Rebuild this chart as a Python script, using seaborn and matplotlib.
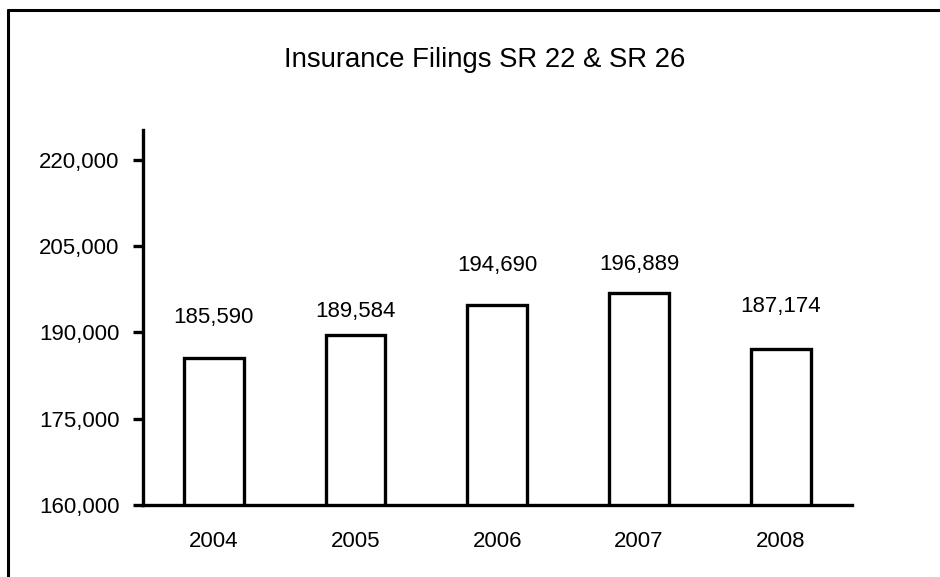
import matplotlib
matplotlib.use("Agg")
import matplotlib.pyplot as plt
import seaborn as sns
import pandas as pd
from matplotlib.lines import Line2D

years = ["2004", "2005", "2006", "2007", "2008"]
filings = [185590, 189584, 194690, 196889, 187174]
ytick_vals = [160000, 175000, 190000, 205000, 220000]

# label offsets above bar tops (px), as in the original layout
label_offsets = [40, 23, 40, 28, 42]

sns.set_style("ticks")
plt.rcParams["font.family"] = ["Liberation Sans", "DejaVu Sans"]

df = pd.DataFrame({"year": years, "filings": filings})

fig = plt.figure(figsize=(9.4, 5.77), dpi=100)
ax = fig.add_axes([0.152, 0.1248, 0.754, 0.65])

sns.barplot(data=df, x="year", y="filings", color="white", edgecolor="black",
            linewidth=2.4, width=0.42, saturation=1, ax=ax)

ax.set_ylim(160000, 225200)
ax.set_yticks(ytick_vals)
ax.set_yticklabels([f"{v:,}" for v in ytick_vals])
ax.set_xlim(-0.5, 4.5)
ax.set_xlabel("")
ax.set_ylabel("")

for side in ["top", "right"]:
    ax.spines[side].set_visible(False)
for side in ["left", "bottom"]:
    ax.spines[side].set_linewidth(2.4)
    ax.spines[side].set_color("black")

ax.tick_params(axis="y", length=7, width=2.4, pad=10, labelsize=16, colors="black")
ax.tick_params(axis="x", length=0, pad=19, labelsize=16, colors="black")

for i, (v, off) in enumerate(zip(filings, label_offsets)):
    ax.annotate(f"{v:,}", xy=(i, v), xytext=(0, off * 0.72), textcoords="offset points",
                ha="center", va="center", fontsize=16, color="black")

fig.text(0.516, 0.896, "Insurance Filings SR 22 & SR 26", ha="center", va="center",
         fontsize=19.8, color="black")

# chart frame (left and top edges only visible)
fig.add_artist(Line2D([8 / 940, 8 / 940], [0, 1 - 10 / 577], transform=fig.transFigure,
                      color="black", linewidth=2.2))
fig.add_artist(Line2D([8 / 940, 1], [1 - 10 / 577, 1 - 10 / 577], transform=fig.transFigure,
                      color="black", linewidth=2.2))

fig.savefig("out.png", dpi=100, facecolor="white")
